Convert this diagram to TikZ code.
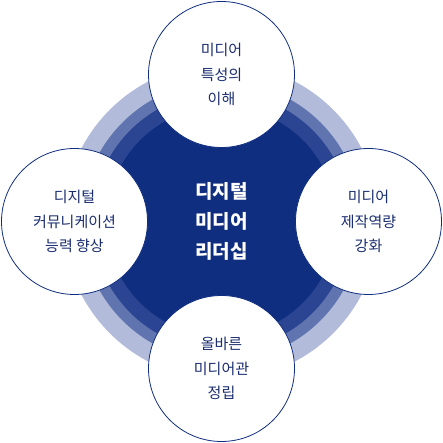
\documentclass[tikz,border=0pt]{standalone}
\usepackage{fontspec}
\setmainfont{Noto Sans CJK KR}
\usetikzlibrary{positioning}
\definecolor{navy}{HTML}{102E80}
\definecolor{ringdark}{HTML}{2B4593}
\definecolor{ringmid}{HTML}{6074AF}
\definecolor{ringlight}{HTML}{B2BBD9}
\definecolor{textnavy}{HTML}{1A2D70}

\begin{document}
\begin{tikzpicture}[
  x=1pt,y=1pt,
  hub/.style={circle,fill=navy,minimum size=230pt,align=center,text=white,font=\fontsize{19}{30}\selectfont\bfseries},
  topic/.style={circle,draw=navy,line width=0.8pt,fill=white,minimum size=146pt,align=center,text=textnavy,font=\fontsize{15}{24.5}\selectfont},
  node distance=147pt, on grid
]
\useasboundingbox (0,0) rectangle (443,443);
\coordinate (mid) at (221.5,221.5);
% rings behind the hub
\fill[ringlight] (mid) circle[radius=158pt];
\fill[ringmid] (mid) circle[radius=140pt];
\fill[ringdark] (mid) circle[radius=129pt];

\node[hub] (hub) at (mid) {디지털\\미디어\\리더십};

\node[topic, above=of hub] (feature) {미디어\\특성의\\이해};
\node[topic, right=of hub] (produce) {미디어\\제작역량\\강화};
\node[topic, below=of hub] (establish) {올바른\\미디어관\\정립};
\node[topic, left=of hub] (communicate) {디지털\\커뮤니케이션\\능력 향상};
\end{tikzpicture}
\end{document}
